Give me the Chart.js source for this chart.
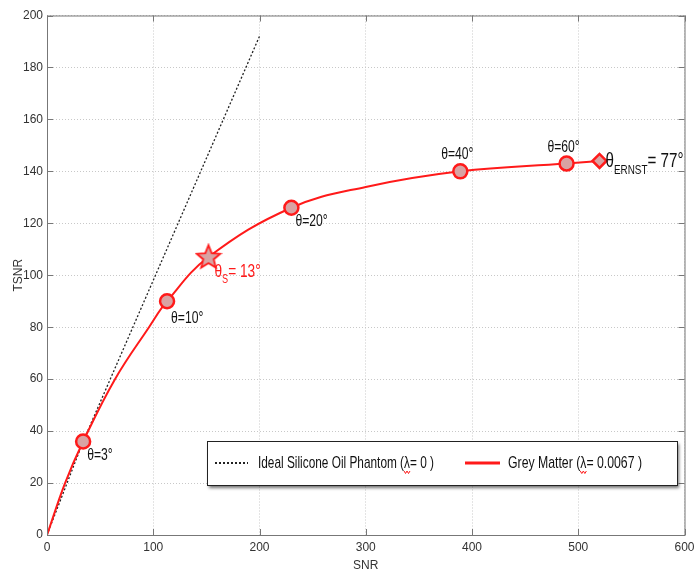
<!DOCTYPE html>
<html>
<head>
<meta charset="utf-8">
<script src="https://cdn.jsdelivr.net/npm/chart.js@4.4.0/dist/chart.umd.min.js"></script>
<style>
html, body { margin: 0; padding: 0; background: #fff; overflow: hidden; }
#wrap { width: 700px; height: 573px; position: relative; }
</style>
</head>
<body>
<div id="wrap"><canvas id="chart"></canvas></div>
<script>
// values
const idealSnr = [0, 34, 200];
const idealTsnr = [0, 36, 192];
const greySnr = [0, 17, 34, 64, 96, 113, 152, 230, 300, 389, 489, 520];
const greyTsnr = [0, 20, 36, 60, 80, 90, 107, 126, 134, 140, 143, 144];
const markerSnr = [34, 113, 152, 230, 389, 489, 520];
const markerTsnr = [36, 90, 107, 126, 140, 143, 144];
const markerAngle = [3, 10, 13, 20, 40, 60, 77];
const markerSub = ['', '', 'S', '', '', '', 'ERNST'];
const seriesNames = ['Ideal Silicone Oil Phantom (λ= 0 )', 'Grey Matter (λ= 0.0067 )'];

const sans = "'Liberation Sans', Arial, sans-serif";
const RED = '#ff1a1a';
const PINK = '#d9a3a3';

// star marker (Chart.js 'star' is only an asterisk)
function makeStar() {
  const c = document.createElement('canvas');
  c.width = 28; c.height = 28;
  const g = c.getContext('2d');
  g.beginPath();
  for (let i = 0; i < 10; i++) {
    const r = i % 2 === 0 ? 12.5 : 5.5;
    const a = -Math.PI / 2 + i * Math.PI / 5;
    g.lineTo(14 + r * Math.cos(a), 14.5 + r * Math.sin(a));
  }
  g.closePath();
  g.fillStyle = PINK; g.fill();
  g.strokeStyle = RED; g.lineWidth = 1.8; g.stroke();
  return c;
}
const star = makeStar();
const markerStyle = ['circle', 'circle', star, 'circle', 'circle', 'circle', 'rectRot'];
const markerRadius = [7, 7, 13, 7, 7, 7, 7];

const pts = (xs, ys) => xs.map((x, i) => ({ x: x, y: ys[i] }));

// the original uses a condensed font, squeeze Liberation Sans instead
function squeezed(ctx, text, x, y, sx) {
  ctx.save();
  ctx.translate(x, y);
  ctx.scale(sx, 1);
  ctx.fillText(text, 0, 0);
  ctx.restore();
  return ctx.measureText(text).width * sx;
}

// frame with inward ticks (matlab style box)
const framePlugin = {
  id: 'frame',
  afterDatasetsDraw(chart) {
    const { ctx, chartArea: a, scales } = chart;
    ctx.save();
    ctx.strokeStyle = '#777';
    ctx.lineWidth = 1;
    ctx.strokeRect(a.left + 0.5, a.top + 0.5, a.right - a.left, a.bottom - a.top);
    ctx.beginPath();
    scales.x.ticks.forEach(t => {
      const px = Math.round(scales.x.getPixelForValue(t.value)) + 0.5;
      ctx.moveTo(px, a.bottom); ctx.lineTo(px, a.bottom - 6);
      ctx.moveTo(px, a.top); ctx.lineTo(px, a.top + 6);
    });
    scales.y.ticks.forEach(t => {
      const py = Math.round(scales.y.getPixelForValue(t.value)) + 0.5;
      ctx.moveTo(a.left, py); ctx.lineTo(a.left + 6, py);
      ctx.moveTo(a.right, py); ctx.lineTo(a.right - 6, py);
    });
    ctx.stroke();
    ctx.restore();
  }
};

// theta labels next to the markers
const labelPlacement = [
  { dx: 4, dy: 14, align: 'left', size: 16, color: '#111' },
  { dx: 4, dy: 17, align: 'left', size: 16, color: '#111' },
  { dx: 6, dy: 15, align: 'left', size: 18, color: RED },
  { dx: 4, dy: 14, align: 'left', size: 16, color: '#111' },
  { dx: -3, dy: -17, align: 'center', size: 16, color: '#111' },
  { dx: -3, dy: -16, align: 'center', size: 16, color: '#111' },
  { dx: 6, dy: 1, align: 'left', size: 20, color: '#111' }
];
const SQ = 0.76;
const labelPlugin = {
  id: 'thetaLabels',
  afterDatasetsDraw(chart) {
    const { ctx, scales } = chart;
    ctx.save();
    ctx.textBaseline = 'middle';
    ctx.textAlign = 'left';
    markerSnr.forEach((x, i) => {
      const p = labelPlacement[i];
      const sub = markerSub[i];
      const head = 'θ';
      const tail = (sub ? '= ' : '=') + markerAngle[i] + '°';
      const big = p.size + 'px ' + sans;
      const small = Math.round(p.size * 0.66) + 'px ' + sans;
      ctx.font = big;
      const wHead = ctx.measureText(head).width * SQ;
      const wTail = ctx.measureText(tail).width * SQ;
      ctx.font = small;
      const wSub = sub ? ctx.measureText(sub).width * SQ : 0;
      const total = wHead + wSub + wTail;
      let px = scales.x.getPixelForValue(x) + p.dx;
      const py = scales.y.getPixelForValue(markerTsnr[i]) + p.dy;
      if (p.align === 'center') px -= total / 2;
      ctx.fillStyle = p.color;
      ctx.font = big;
      squeezed(ctx, head, px, py, SQ);
      if (sub) {
        ctx.font = small;
        squeezed(ctx, sub, px + wHead, py + p.size * 0.4, SQ);
      }
      ctx.font = big;
      squeezed(ctx, tail, px + wHead + wSub, py, SQ);
    });
    ctx.restore();
  }
};

// boxed legend inside the plot
const legendPlugin = {
  id: 'boxLegend',
  afterDraw(chart) {
    const { ctx } = chart;
    const bx = 207, by = 441, bw = 470, bh = 44;
    const cy = by + bh / 2;
    ctx.save();
    ctx.shadowColor = 'rgba(0,0,0,0.55)';
    ctx.shadowOffsetX = 2; ctx.shadowOffsetY = 3; ctx.shadowBlur = 3;
    ctx.fillStyle = '#fff';
    ctx.fillRect(bx, by, bw, bh);
    ctx.shadowColor = 'transparent';
    ctx.strokeStyle = '#222'; ctx.lineWidth = 1;
    ctx.strokeRect(bx + 0.5, by + 0.5, bw, bh);

    const ds = chart.data.datasets;
    ctx.font = '17px ' + sans;
    ctx.textBaseline = 'middle';
    ctx.textAlign = 'left';
    const items = [
      { x0: 215, x1: 248, tx: 258, w: 176, ds: ds[0] },
      { x0: 465, x1: 500, tx: 508, w: 134, ds: ds[1] }
    ];
    items.forEach(it => {
      ctx.beginPath();
      ctx.strokeStyle = it.ds.borderColor;
      ctx.lineWidth = it.ds.borderDash ? 2 : 3;
      ctx.setLineDash(it.ds.borderDash ? [2, 2] : []);
      ctx.moveTo(it.x0, cy); ctx.lineTo(it.x1, cy);
      ctx.stroke();
      ctx.setLineDash([]);
      ctx.fillStyle = '#111';
      const sx = it.w / ctx.measureText(it.ds.label).width;
      squeezed(ctx, it.ds.label, it.tx, cy, sx);
      // spell-check squiggle under the lambda
      const k = it.ds.label.indexOf('λ');
      const lx = it.tx + ctx.measureText(it.ds.label.slice(0, k)).width * sx;
      const lw = ctx.measureText('λ').width * sx;
      ctx.beginPath();
      ctx.strokeStyle = RED; ctx.lineWidth = 1;
      for (let j = 0; j <= 4; j++) {
        ctx.lineTo(lx + j * lw / 4, cy + 9 + (j % 2 ? 1.5 : -1));
      }
      ctx.stroke();
    });
    ctx.restore();
  }
};

new Chart(document.getElementById('chart'), {
  type: 'scatter',
  data: {
    datasets: [
      {
        label: seriesNames[0],
        data: pts(idealSnr, idealTsnr),
        showLine: true,
        borderColor: '#222',
        borderWidth: 1.3,
        borderDash: [2, 2],
        pointRadius: 0,
        order: 3
      },
      {
        label: seriesNames[1],
        data: pts(greySnr, greyTsnr),
        showLine: true,
        borderColor: RED,
        borderWidth: 2,
        tension: 0.4,
        pointRadius: 0,
        order: 2
      },
      {
        label: 'markers',
        data: pts(markerSnr, markerTsnr),
        showLine: false,
        pointStyle: markerStyle,
        pointRadius: markerRadius,
        backgroundColor: PINK,
        borderColor: RED,
        pointBorderWidth: 2.5,
        order: 1
      }
    ]
  },
  options: {
    responsive: true,
    maintainAspectRatio: false,
    animation: false,
    layout: { padding: { left: 0, right: 7, top: 15, bottom: 0 } },
    plugins: { legend: { display: false }, tooltip: { enabled: false } },
    scales: {
      x: {
        type: 'linear',
        min: 0, max: 600,
        ticks: { stepSize: 100, padding: 5, color: '#333', font: { family: sans, size: 12 } },
        grid: { color: '#c8c8c8', drawTicks: false },
        border: { display: false, dash: [1, 2] },
        title: { display: true, text: 'SNR', color: '#333', padding: { top: 0, bottom: 0 }, font: { family: sans, size: 12 } },
        afterFit(s) { s.height = 38; s.paddingLeft = 0; s.paddingRight = 0; }
      },
      y: {
        type: 'linear',
        min: 0, max: 200,
        ticks: { stepSize: 20, padding: 4, color: '#333', font: { family: sans, size: 12 } },
        grid: { color: '#c8c8c8', drawTicks: false },
        border: { display: false, dash: [1, 2] },
        title: { display: true, text: 'TSNR', color: '#333', padding: { top: 11, bottom: 0 }, font: { family: sans, size: 12 } },
        afterFit(s) { s.width = 47; s.paddingTop = 0; s.paddingBottom = 0; }
      }
    }
  },
  plugins: [framePlugin, labelPlugin, legendPlugin]
});
</script>
</body>
</html>
